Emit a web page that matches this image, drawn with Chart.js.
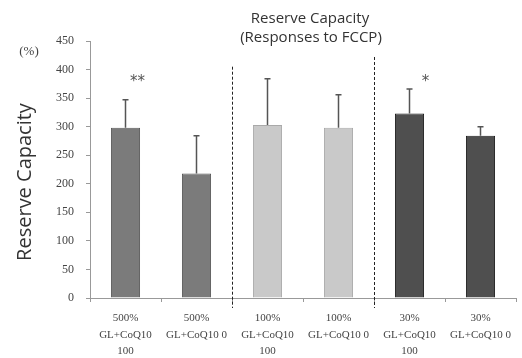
<!DOCTYPE html>
<html>
<head>
<meta charset="utf-8">
<script src="https://cdn.jsdelivr.net/npm/chart.js@4"></script>
<style>
  html, body { margin: 0; padding: 0; background: #fff; }
  #wrap { width: 522px; height: 358px; }
</style>
</head>
<body>
<div id="wrap"><canvas id="chart" width="522" height="358"></canvas></div>
<script>

// Data
var categories = [
	['500%', 'GL+CoQ10', '100'],
	['500%', 'GL+CoQ10 0'],
	['100%', 'GL+CoQ10', '100'],
	['100%', 'GL+CoQ10 0'],
	['30%', 'GL+CoQ10', '100'],
	['30%', 'GL+CoQ10 0']
];
var values = [298, 218, 303, 298, 323, 284];
var errors = [49, 66, 81, 58, 43, 16]; // upper error bars only
var marks = ['**', '', '', '', '*', '']; // significance marks
var separators = [1.5, 3.5]; // dashed lines between groups (category index)

var yTicks = [0, 50, 100, 150, 200, 250, 300, 350, 400, 450];

var barColours = ['#7b7b7b', '#7b7b7b', '#c9c9c9', '#c9c9c9', '#4f4f4f', '#4f4f4f'];
var borderColours = ['#5a5a5a', '#5a5a5a', '#a9a9a9', '#a9a9a9', '#1e1e1e', '#1e1e1e'];

// Draws the error bars, asterisks, group separators and the texts
var extrasPlugin = {
	id: 'extras',
	afterDatasetsDraw: function (chart) {
		var ctx = chart.ctx;
		var x = chart.scales.x;
		var y = chart.scales.y;
		var meta = chart.getDatasetMeta(0);

		ctx.save();

		// Error bars
		ctx.strokeStyle = '#555';
		ctx.lineWidth = 1.5;
		meta.data.forEach(function (bar, i) {
			var top = y.getPixelForValue(values[i] + errors[i]);
			ctx.beginPath();
			ctx.moveTo(bar.x, bar.y);
			ctx.lineTo(bar.x, top);
			ctx.moveTo(bar.x - 3, top);
			ctx.lineTo(bar.x + 3, top);
			ctx.stroke();
		});

		// Significance marks
		ctx.fillStyle = '#555';
		ctx.font = '15px "DejaVu Sans"';
		ctx.textAlign = 'center';
		ctx.textBaseline = 'middle';
		meta.data.forEach(function (bar, i) {
			if (marks[i]) {
				ctx.fillText(marks[i], bar.x + (marks[i].length == 1 ? 16 : 12), y.getPixelForValue(378));
			}
		});

		// Dashed separators between the groups
		ctx.strokeStyle = '#222';
		ctx.lineWidth = 1;
		ctx.setLineDash([3, 2]);
		var tops = [405, 422];
		separators.forEach(function (s, i) {
			var px = x.getPixelForValue(s);
			ctx.beginPath();
			ctx.moveTo(Math.round(px) + 0.5, y.getPixelForValue(tops[i]));
			ctx.lineTo(Math.round(px) + 0.5, y.bottom + 10);
			ctx.stroke();
		});
		ctx.setLineDash([]);

		// Title
		ctx.fillStyle = '#333';
		ctx.font = '15px "Open Sans"';
		ctx.fillText('Reserve Capacity', 310, 19);
		ctx.fillText('(Responses to FCCP)', 311, 38);

		// Unit
		ctx.font = '13px "Liberation Serif"';
		ctx.fillStyle = '#444';
		ctx.fillText('(%)', 29, 52);

		// Y axis title
		ctx.translate(25, 182);
		ctx.rotate(-Math.PI / 2);
		ctx.fillStyle = '#333';
		ctx.font = '20px "Open Sans"';
		ctx.fillText('Reserve Capacity', 0, 0);

		ctx.restore();
	}
};

new Chart(document.getElementById('chart').getContext('2d'), {
	type: 'bar',
	data: {
		labels: categories,
		datasets: [{
			data: values,
			backgroundColor: barColours,
			borderColor: borderColours,
			borderWidth: 1,
			barPercentage: 0.41,
			categoryPercentage: 1
		}]
	},
	options: {
		responsive: false,
		animation: false,
		layout: {
			padding: { top: 41, right: 6, left: 0, bottom: 0 }
		},
		plugins: {
			legend: { display: false },
			tooltip: { enabled: false }
		},
		scales: {
			x: {
				grid: {
					drawOnChartArea: false,
					drawTicks: true,
					tickLength: 4,
					color: '#999',
					offset: true
				},
				border: { color: '#999', dash: [1, 1] },
				ticks: {
					color: '#444',
					font: { family: '"Liberation Serif"', size: 11, lineHeight: 1.5 },
					padding: 8,
					maxRotation: 0,
					autoSkip: false
				},
				afterFit: function (scale) { scale.height = 60; }
			},
			y: {
				min: 0,
				max: 450,
				afterBuildTicks: function (scale) {
					scale.ticks = yTicks.map(v => ({ value: v }));
				},
				grid: {
					drawOnChartArea: false,
					drawTicks: true,
					tickLength: 4,
					color: '#999'
				},
				border: { color: '#999', dash: [1, 1] },
				ticks: {
					color: '#444',
					font: { family: '"Liberation Serif"', size: 12 },
					padding: 12
				},
				afterFit: function (scale) { scale.width = 90; }
			}
		}
	},
	plugins: [extrasPlugin]
});
</script>
</body>
</html>
